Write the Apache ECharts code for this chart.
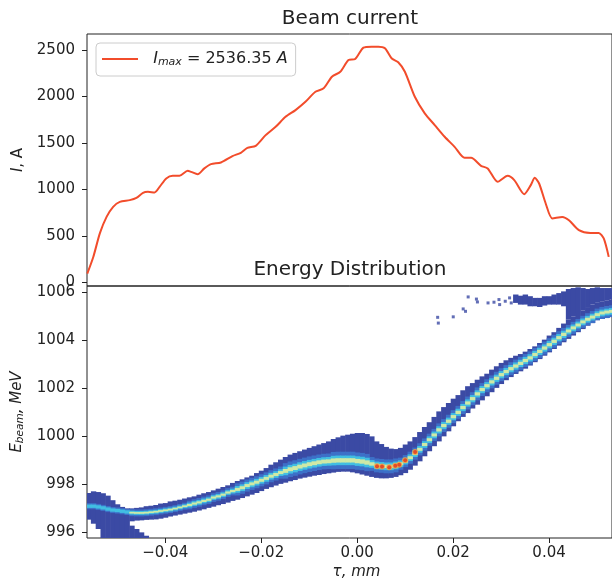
<!DOCTYPE html>
<html>
<head>
<meta charset="utf-8">
<script src="https://cdn.jsdelivr.net/npm/echarts@6/dist/echarts.min.js"></script>
<style>
  html, body { margin: 0; padding: 0; background: #fff; }
  #chart { width: 612px; height: 588px; }
</style>
</head>
<body>
<div id="chart"></div>
<script>
// ---- beam current (top panel) ----
const curTau = [-0.05625, -0.0550, -0.05362, -0.05223, -0.05086, -0.04947, -0.04740, -0.04601, -0.04464, -0.04361,
  -0.04222, -0.04118, -0.03979, -0.03843, -0.03704, -0.03532, -0.03461, -0.03324, -0.03185, -0.03047,
  -0.02839, -0.02599, -0.02425, -0.02288, -0.02114, -0.01907, -0.01699, -0.01492, -0.01285, -0.01078,
  -0.00870, -0.00698, -0.00526, -0.00352, -0.00180, -0.00041, 0.00131, 0.00303, 0.00441, 0.00580,
  0.00717, 0.00856, 0.00995, 0.01202, 0.01409, 0.01617, 0.01824, 0.02031, 0.02238, 0.02375,
  0.02582, 0.02721, 0.02929, 0.03136, 0.03275, 0.03482, 0.03619, 0.03702, 0.03793, 0.03930,
  0.04068, 0.04276, 0.04415, 0.04622, 0.04862, 0.05036, 0.05140, 0.05244]
const curAmp = [97, 275, 531, 706, 814, 867, 886, 910, 964, 975,
  969, 1029, 1119, 1147, 1147, 1201, 1190, 1165, 1227, 1273,
  1291, 1359, 1395, 1448, 1470, 1585, 1674, 1782, 1854, 1943,
  2051, 2088, 2213, 2266, 2392, 2403, 2525, 2536, 2536, 2518,
  2411, 2368, 2266, 1997, 1819, 1693, 1567, 1459, 1341, 1341,
  1255, 1227, 1083, 1147, 1101, 950, 1047, 1126, 1065, 850,
  689, 706, 670, 563, 534, 534, 474, 276]
const iMax = 2536.35
const currentTicks = [0, 500, 1000, 1500, 2000, 2500]

// ---- energy distribution (bottom panel), one column per tau bin ----
const bandTau = [-0.056, -0.055, -0.054, -0.053, -0.052, -0.051, -0.050, -0.049, -0.048, -0.047,
  -0.046, -0.045, -0.044, -0.043, -0.042, -0.041, -0.040, -0.039, -0.038, -0.037,
  -0.036, -0.035, -0.034, -0.033, -0.032, -0.031, -0.030, -0.029, -0.028, -0.027,
  -0.026, -0.025, -0.024, -0.023, -0.022, -0.021, -0.020, -0.019, -0.018, -0.017,
  -0.016, -0.015, -0.014, -0.013, -0.012, -0.011, -0.010, -0.009, -0.008, -0.007,
  -0.006, -0.005, -0.004, -0.003, -0.002, -0.001, 0.000, 0.001, 0.002, 0.003,
  0.004, 0.005, 0.006, 0.007, 0.008, 0.009, 0.010, 0.011, 0.012, 0.013,
  0.014, 0.015, 0.016, 0.017, 0.018, 0.019, 0.020, 0.021, 0.022, 0.023,
  0.024, 0.025, 0.026, 0.027, 0.028, 0.029, 0.030, 0.031, 0.032, 0.033,
  0.034, 0.035, 0.036, 0.037, 0.038, 0.039, 0.040, 0.041, 0.042, 0.043,
  0.044, 0.045, 0.046, 0.047, 0.048, 0.049, 0.050, 0.051, 0.052, 0.053]
const bandHigh = [997.65, 997.72, 997.69, 997.64, 997.54, 997.35, 997.18, 997.07, 997.01, 997.01,
  997.03, 997.05, 997.10, 997.12, 997.15, 997.21, 997.23, 997.30, 997.33, 997.37,
  997.42, 997.47, 997.51, 997.58, 997.64, 997.69, 997.76, 997.83, 997.90, 997.97,
  998.07, 998.15, 998.22, 998.30, 998.37, 998.48, 998.58, 998.69, 998.83, 998.93,
  999.04, 999.15, 999.25, 999.32, 999.39, 999.46, 999.53, 999.60, 999.67, 999.73,
  999.80, 999.90, 999.97, 1000.04, 1000.08, 1000.12, 1000.15, 1000.15, 1000.11, 1000.01,
  999.80, 999.69, 999.57, 999.50, 999.48, 999.53, 999.67, 999.80, 999.98, 1000.19,
  1000.40, 1000.60, 1000.82, 1001.05, 1001.23, 1001.40, 1001.58, 1001.73, 1001.93, 1002.10,
  1002.23, 1002.37, 1002.51, 1002.62, 1002.79, 1002.93, 1003.07, 1003.18, 1003.28, 1003.37,
  1003.44, 1003.54, 1003.65, 1003.76, 1003.90, 1004.04, 1004.21, 1004.35, 1004.53, 1004.71,
  1004.87, 1005.01, 1005.15, 1005.26, 1005.36, 1005.50, 1005.60, 1005.64, 1005.68, 1005.71]
const bandLow = [996.54, 996.37, 996.15, 995.70, 995.70, 995.70, 995.70, 995.70, 995.70, 996.47,
  996.50, 996.51, 996.53, 996.54, 996.55, 996.58, 996.62, 996.67, 996.71, 996.75,
  996.79, 996.83, 996.87, 996.92, 996.97, 997.03, 997.08, 997.14, 997.19, 997.25,
  997.32, 997.37, 997.44, 997.51, 997.58, 997.65, 997.73, 997.82, 997.89, 997.96,
  998.03, 998.08, 998.14, 998.19, 998.25, 998.29, 998.33, 998.37, 998.40, 998.44,
  998.47, 998.50, 998.53, 998.54, 998.54, 998.51, 998.47, 998.42, 998.37, 998.32,
  998.28, 998.26, 998.26, 998.28, 998.32, 998.39, 998.48, 998.62, 998.79, 998.97,
  999.18, 999.39, 999.60, 999.80, 1000.01, 1000.22, 1000.43, 1000.64, 1000.82, 1000.98,
  1001.17, 1001.33, 1001.51, 1001.68, 1001.85, 1002.03, 1002.19, 1002.35, 1002.48, 1002.61,
  1002.72, 1002.83, 1002.96, 1003.10, 1003.23, 1003.37, 1003.51, 1003.65, 1003.79, 1003.93,
  1004.07, 1004.21, 1004.35, 1004.48, 1004.62, 1004.73, 1004.85, 1004.90, 1004.94, 1004.98]
const bandMid = [997.10, 997.10, 997.07, 997.03, 996.98, 996.94, 996.92, 996.89, 996.86, 996.83,
  996.82, 996.82, 996.83, 996.85, 996.87, 996.90, 996.93, 996.96, 997.00, 997.05,
  997.10, 997.15, 997.21, 997.26, 997.32, 997.37, 997.46, 997.51, 997.58, 997.67,
  997.73, 997.80, 997.87, 997.96, 998.03, 998.10, 998.18, 998.26, 998.35, 998.42,
  998.50, 998.57, 998.64, 998.69, 998.75, 998.80, 998.85, 998.89, 998.93, 998.96,
  998.97, 999.00, 999.01, 999.01, 999.01, 999.01, 998.98, 998.96, 998.92, 998.86,
  998.80, 998.78, 998.76, 998.76, 998.80, 998.87, 998.98, 999.12, 999.29, 999.47,
  999.67, 999.87, 1000.07, 1000.28, 1000.46, 1000.64, 1000.83, 1001.01, 1001.21, 1001.40,
  1001.58, 1001.78, 1001.96, 1002.12, 1002.28, 1002.43, 1002.58, 1002.71, 1002.83, 1002.94,
  1003.05, 1003.17, 1003.28, 1003.42, 1003.55, 1003.69, 1003.83, 1003.97, 1004.12, 1004.26,
  1004.40, 1004.53, 1004.65, 1004.78, 1004.89, 1004.98, 1005.08, 1005.15, 1005.19, 1005.22]
// half-width (MeV) of the dense core of each column
const coreHalf = [0.07, 0.07, 0.07, 0.07, 0.07, 0.07, 0.07, 0.07, 0.07, 0.08,
  0.08, 0.08, 0.08, 0.08, 0.08, 0.08, 0.08, 0.08, 0.08, 0.08,
  0.08, 0.10, 0.10, 0.10, 0.10, 0.10, 0.10, 0.10, 0.10, 0.10,
  0.10, 0.14, 0.14, 0.14, 0.14, 0.14, 0.14, 0.14, 0.14, 0.14,
  0.14, 0.18, 0.18, 0.18, 0.18, 0.18, 0.18, 0.18, 0.18, 0.18,
  0.18, 0.20, 0.20, 0.20, 0.20, 0.20, 0.20, 0.20, 0.20, 0.16,
  0.16, 0.16, 0.16, 0.16, 0.16, 0.14, 0.14, 0.14, 0.14, 0.14,
  0.14, 0.14, 0.14, 0.15, 0.15, 0.15, 0.15, 0.15, 0.15, 0.15,
  0.15, 0.15, 0.15, 0.15, 0.15, 0.15, 0.15, 0.15, 0.15, 0.15,
  0.15, 0.15, 0.15, 0.15, 0.15, 0.15, 0.15, 0.15, 0.15, 0.15,
  0.14, 0.14, 0.14, 0.14, 0.14, 0.14, 0.14, 0.14, 0.14, 0.14]

// low tail under the head of the bunch
const tailTau = [-0.047, -0.046, -0.045, -0.044]
const tailTop = [996.29, 996.15, 996.01, 995.87]

// halo above the tail end: sparse part, then dense part
const sparseTau = [0.033, 0.034, 0.035, 0.036, 0.037, 0.038, 0.039, 0.040, 0.041, 0.042, 0.043]
const sparseLow = [1005.57, 1005.50, 1005.50, 1005.43, 1005.43, 1005.40, 1005.46, 1005.50, 1005.50, 1005.50, 1005.43]
const sparseHigh = [1005.92, 1005.87, 1005.92, 1005.85, 1005.78, 1005.78, 1005.85, 1005.85, 1005.92, 1005.98, 1006.05]
const cloudTau = [0.044, 0.045, 0.046, 0.047, 0.048, 0.049, 0.050, 0.051, 0.052, 0.053]
const cloudLow = [1004.87, 1005.01, 1005.15, 1005.26, 1005.36, 1005.50, 1005.60, 1005.64, 1005.68, 1005.71]
const cloudHigh = [1006.15, 1006.19, 1006.22, 1006.19, 1006.15, 1006.19, 1006.22, 1006.19, 1006.19, 1006.19]

const strayTau = [0.01678, 0.01692, 0.02003, 0.02210, 0.02259, 0.02314, 0.02486, 0.02507,
  0.02728, 0.02852, 0.02956, 0.02970, 0.03087, 0.03177, 0.03212]
const strayE = [1004.97, 1004.73, 1004.99, 1005.32, 1005.22, 1005.82, 1005.73, 1005.61,
  1005.57, 1005.60, 1005.71, 1005.50, 1005.64, 1005.78, 1005.57]

const hotTau = [0.00414, 0.00518, 0.00669, 0.00794, 0.00877, 0.01001, 0.01208]
const hotE = [998.76, 998.75, 998.72, 998.79, 998.83, 999.01, 999.36]

const tauTicks = [-0.04, -0.02, 0, 0.02, 0.04]
const energyTicks = [996, 998, 1000, 1002, 1004, 1006]

// ---- styling ----
const ink = '#222222'
const font = 'DejaVu Sans'
const lineColor = '#f24c2b'
const cmap = { outer: '#3b4aa4', mid: '#3d70c8', core: '#41bee2', peak: '#cfe9a6', hot: '#e3321d', warm: '#f4a23e' }
const binHalf = 0.0005
const tauMin = -0.05631
const tauMax = 0.05312

const fmtTau = (v) => (v < -1e-9 ? '\u2212' : '') + Math.abs(v).toFixed(2)
const fmtPlain = (v) => String(v)

function columnRect(params, api) {
  const t = api.value(0)
  const lo = api.value(1)
  const hi = api.value(2)
  if (!(hi > lo)) return null
  const a = api.coord([t - binHalf, hi])
  const b = api.coord([t + binHalf, lo])
  const cs = params.coordSys
  const shape = echarts.graphic.clipRectByRect(
    { x: a[0], y: a[1], width: b[0] - a[0] + 0.6, height: b[1] - a[1] },
    { x: cs.x, y: cs.y, width: cs.width, height: cs.height }
  )
  if (!shape) return null
  return { type: 'rect', shape, style: { fill: api.visual('color'), opacity: api.visual('opacity') } }
}

// nested layers around the core of each column
const layer = (k, minHalf) =>
  bandTau
    .map((t, i) => [
      t,
      Math.max(bandLow[i], bandMid[i] - coreHalf[i] * k),
      Math.min(bandHigh[i], bandMid[i] + coreHalf[i] * k),
      coreHalf[i],
    ])
    .filter((d) => d[3] >= minHalf)

const columnSeries = (name, data, color, opacity = 1) => ({
  name,
  type: 'custom',
  xAxisIndex: 1,
  yAxisIndex: 1,
  renderItem: columnRect,
  itemStyle: { color, opacity },
  encode: { x: 0, y: [1, 2] },
  data,
  silent: true,
})

const axisText = { color: ink, fontFamily: font, fontSize: 15 }
const tickStyle = { show: true, length: 5, lineStyle: { color: ink, width: 1 } }
const noLine = { show: false, onZero: false }

const chart = echarts.init(document.getElementById('chart'))
chart.setOption({
  animation: false,
  backgroundColor: '#fff',
  title: [
    { text: 'Beam current', left: 350, top: 9, textAlign: 'center', padding: 0,
      textStyle: { color: ink, fontFamily: font, fontSize: 20, fontWeight: 'normal' } },
    { text: 'Energy Distribution', left: 350, top: 260, textAlign: 'center', padding: 0,
      textStyle: { color: ink, fontFamily: font, fontSize: 20, fontWeight: 'normal' } },
  ],
  legend: {
    left: 96,
    top: 43,
    padding: [8, 8, 8, 6],
    itemWidth: 36,
    itemHeight: 2,
    icon: 'rect',
    backgroundColor: 'rgba(255,255,255,0.8)',
    borderColor: '#cccccc',
    borderWidth: 1,
    borderRadius: 4,
    data: ['current'],
    formatter: () => '{n|  }{it|I}{sub|max}{n| = ' + iMax.toFixed(2) + ' }{it|A}',
    textStyle: {
      color: ink,
      fontFamily: font,
      rich: {
        n: { fontSize: 16, fontFamily: font, color: ink, lineHeight: 18 },
        it: { fontSize: 16, fontFamily: font, color: ink, fontStyle: 'italic', lineHeight: 18 },
        sub: { fontSize: 11, fontFamily: font, color: ink, fontStyle: 'italic', verticalAlign: 'bottom', lineHeight: 11 },
      },
    },
  },
  grid: [
    { left: 87, right: -3, top: 34, height: 252, show: true, borderColor: ink, borderWidth: 1 },
    { left: 87, right: -3, top: 286, height: 252, show: true, borderColor: ink, borderWidth: 1 },
  ],
  xAxis: [
    { type: 'value', gridIndex: 0, min: tauMin, max: tauMax,
      axisLine: noLine, axisTick: { show: false }, axisLabel: { show: false }, splitLine: { show: false } },
    { type: 'value', gridIndex: 1, min: tauMin, max: tauMax,
      name: '{it|\u03c4, mm}', nameLocation: 'middle', nameGap: 27,
      nameTextStyle: { padding: [0, 0, 0, 14], rich: { it: { ...axisText, fontStyle: 'italic' } } },
      axisLine: noLine,
      axisTick: { ...tickStyle, customValues: tauTicks },
      axisLabel: { ...axisText, margin: 8, customValues: tauTicks, formatter: fmtTau },
      splitLine: { show: false } },
  ],
  yAxis: [
    { type: 'value', gridIndex: 0, min: -37, max: 2672,
      name: '{it|I}{n|, A}', nameLocation: 'middle', nameGap: 61, nameRotate: 90,
      nameTextStyle: { rich: { it: { ...axisText, fontStyle: 'italic' }, n: { ...axisText } } },
      axisLine: noLine,
      axisTick: { ...tickStyle, customValues: currentTicks },
      axisLabel: { ...axisText, margin: 12, customValues: currentTicks, formatter: fmtPlain },
      splitLine: { show: false } },
    { type: 'value', gridIndex: 1, min: 995.775, max: 1006.275,
      name: '{it|E}{sub|beam}{it|, MeV}', nameLocation: 'middle', nameGap: 60, nameRotate: 90,
      nameTextStyle: { rich: {
        it: { ...axisText, fontStyle: 'italic', lineHeight: 18 },
        sub: { ...axisText, fontSize: 10.5, fontStyle: 'italic', verticalAlign: 'bottom', lineHeight: 11 },
      } },
      axisLine: noLine,
      axisTick: { ...tickStyle, customValues: energyTicks },
      axisLabel: { ...axisText, margin: 12, customValues: energyTicks, formatter: fmtPlain },
      splitLine: { show: false } },
  ],
  series: [
    {
      name: 'current',
      type: 'line',
      xAxisIndex: 0,
      yAxisIndex: 0,
      data: curTau.map((t, i) => [t, curAmp[i]]),
      symbol: 'none',
      smooth: 0.25,
      clip: true,
      lineStyle: { color: lineColor, width: 2 },
      itemStyle: { color: lineColor },
      silent: true,
    },
    columnSeries('outer', bandTau.map((t, i) => [t, bandLow[i], bandHigh[i]]), cmap.outer),
    columnSeries('tail', tailTau.map((t, i) => [t, 995.7, tailTop[i]]), cmap.outer),
    columnSeries('sparse', sparseTau.map((t, i) => [t, sparseLow[i], sparseHigh[i]]), cmap.outer, 0.55),
    columnSeries('cloud', cloudTau.map((t, i) => [t, cloudLow[i], cloudHigh[i]]), cmap.outer),
    columnSeries('mid', layer(1.8, 0), cmap.mid),
    columnSeries('core', layer(1, 0), cmap.core),
    columnSeries('peak', layer(0.45, 0.08), cmap.peak),
    {
      name: 'stray', type: 'scatter', xAxisIndex: 1, yAxisIndex: 1, silent: true,
      symbol: 'rect', symbolSize: 3, itemStyle: { color: cmap.outer },
      data: strayTau.map((t, i) => [t, strayE[i]]),
    },
    {
      name: 'warm', type: 'scatter', xAxisIndex: 1, yAxisIndex: 1, silent: true,
      symbol: 'circle', symbolSize: 6, itemStyle: { color: cmap.warm },
      data: hotTau.map((t, i) => [t, hotE[i]]),
    },
    {
      name: 'hot', type: 'scatter', xAxisIndex: 1, yAxisIndex: 1, silent: true,
      symbol: 'circle', symbolSize: 4, itemStyle: { color: cmap.hot },
      data: hotTau.map((t, i) => [t, hotE[i]]),
    },
  ],
})
</script>
</body>
</html>
